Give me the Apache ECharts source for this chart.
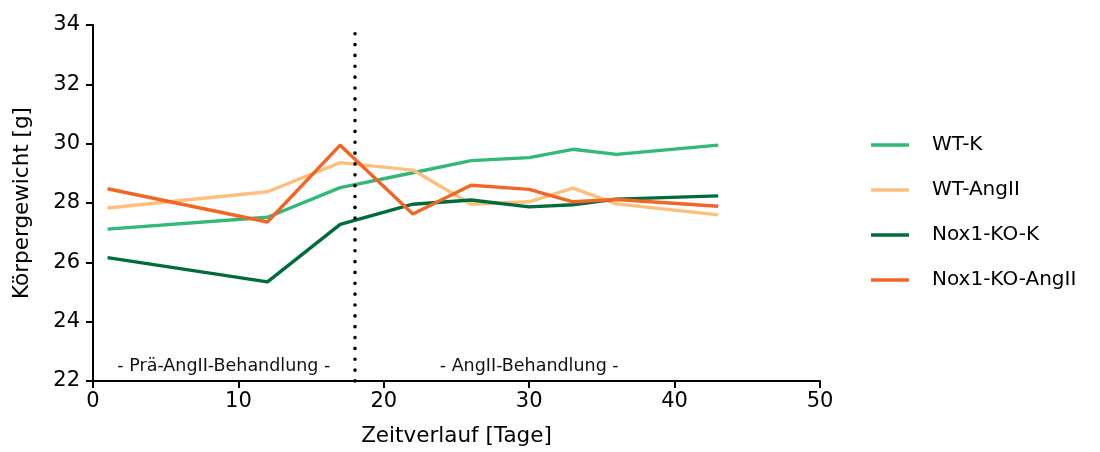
<!DOCTYPE html>
<html>
<head>
<meta charset="utf-8">
<script src="https://cdn.jsdelivr.net/npm/echarts@6/dist/echarts.min.js"></script>
<style>
  html, body { margin: 0; padding: 0; background: #fff; }
  #chart { width: 1100px; height: 452px; }
</style>
</head>
<body>
<div id="chart"></div>
<script>
// Messtage (Tage)
const days = [1, 12, 17, 22, 26, 30, 33, 36, 43];

// Körpergewicht [g] je Gruppe
const wtK       = [27.12, 27.52, 28.52, 29.02, 29.43, 29.53, 29.81, 29.64, 29.95];
const wtAngII   = [27.83, 28.38, 29.36, 29.11, 27.96, 28.04, 28.50, 27.97, 27.60];
const noxK      = [26.16, 25.34, 27.28, 27.96, 28.10, 27.87, 27.94, 28.13, 28.24];
const noxAngII  = [28.48, 27.36, 29.95, 27.63, 28.60, 28.46, 28.04, 28.12, 27.89];

const seriesNames = ['WT-K', 'WT-AngII', 'Nox1-KO-K', 'Nox1-KO-AngII'];
const seriesColors = ['#32b877', '#fdbf7d', '#006b3b', '#f26524'];
const seriesValues = [wtK, wtAngII, noxK, noxAngII];

// Beginn der AngII-Behandlung
const treatmentStart = 18;
const phaseLabels = [
  { day: 9, text: '- Prä-AngII-Behandlung -' },
  { day: 30, text: '- AngII-Behandlung -' }
];

const yTicks = { min: 22, max: 34, interval: 2 };
const xTicks = { min: 0, max: 50, interval: 10 };

const font = 'DejaVu Sans, Verdana, sans-serif';
const chart = echarts.init(document.getElementById('chart'), null, { renderer: 'canvas' });

const series = seriesNames.map((name, i) => ({
  name: name,
  type: 'line',
  symbol: 'none',
  data: days.map((d, j) => [d, seriesValues[i][j]]),
  lineStyle: { color: seriesColors[i], width: 3.4 },
  itemStyle: { color: seriesColors[i] },
  z: 3
}));

// Trennlinie (Behandlungsbeginn) und Phasenbeschriftung, über den Kurven
series.push({
  name: 'phase',
  type: 'line',
  data: [],
  silent: true,
  z: 10,
  markLine: {
    silent: true,
    symbol: 'none',
    label: { show: false },
    lineStyle: { color: '#000', width: 3.6, type: [0.1, 10.75], cap: 'round' },
    data: [{ xAxis: treatmentStart }]
  },
  markPoint: {
    silent: true,
    symbol: 'rect',
    symbolSize: 0,
    itemStyle: { color: 'transparent' },
    label: {
      show: true,
      position: 'inside',
      color: '#111',
      fontSize: 17.5,
      fontFamily: font
    },
    data: phaseLabels.map(p => ({ coord: [p.day, 22.5], value: p.text, label: { formatter: p.text } }))
  }
});

chart.setOption({
  animation: false,
  backgroundColor: '#fff',
  grid: { left: 93, right: 280, top: 25, bottom: 71, containLabel: false },
  legend: {
    data: seriesNames,
    orient: 'vertical',
    left: 866,
    top: 130,
    itemWidth: 38,
    itemHeight: 20,
    itemGap: 25,
    icon: 'path://M0,8.3 L38,8.3 L38,11.7 L0,11.7 Z',
    textStyle: { fontSize: 20, color: '#000', fontFamily: font, padding: [0, 0, 0, 18] }
  },
  xAxis: {
    type: 'value',
    min: xTicks.min, max: xTicks.max, interval: xTicks.interval,
    name: 'Zeitverlauf [Tage]',
    nameLocation: 'middle',
    nameGap: 44,
    nameTextStyle: { fontSize: 21.5, color: '#000', fontFamily: font },
    axisLine: { show: true, lineStyle: { color: '#000', width: 2 } },
    axisTick: { show: true, length: 7, lineStyle: { color: '#000', width: 2 } },
    axisLabel: { fontSize: 21, color: '#000', fontFamily: font, margin: 10 },
    splitLine: { show: false }
  },
  yAxis: {
    type: 'value',
    min: yTicks.min, max: yTicks.max, interval: yTicks.interval,
    name: 'Körpergewicht [g]',
    nameLocation: 'middle',
    nameGap: 60,
    nameRotate: 90,
    nameTextStyle: { fontSize: 21.5, color: '#000', fontFamily: font },
    axisLine: { show: true, lineStyle: { color: '#000', width: 2 } },
    axisTick: { show: true, length: 7, lineStyle: { color: '#000', width: 2 } },
    axisLabel: { fontSize: 21, color: '#000', fontFamily: font, margin: 13 },
    splitLine: { show: false }
  },
  series: series
});
</script>
</body>
</html>
